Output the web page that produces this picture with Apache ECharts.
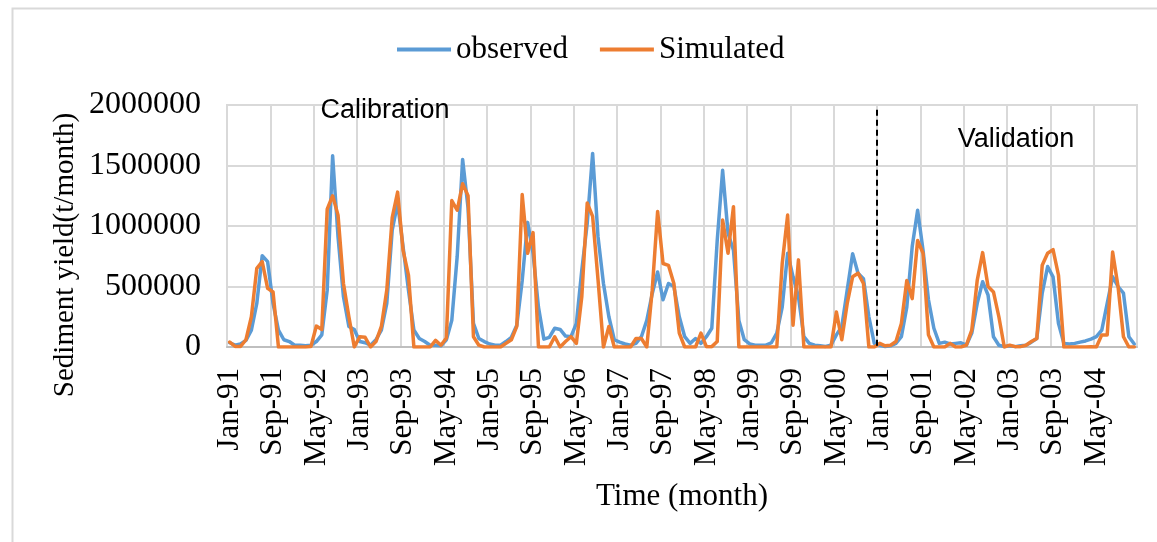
<!DOCTYPE html>
<html>
<head>
<meta charset="utf-8">
<script src="https://cdn.jsdelivr.net/npm/echarts@6/dist/echarts.min.js"></script>
<style>
html,body{margin:0;padding:0;background:#fff;}
#chart{width:1157px;height:542px;}
</style>
</head>
<body>
<div id="chart"></div>
<script>
// Month names and years for the category axis (Jan-91 .. Dec-04)
const monthNames = ['Jan','Feb','Mar','Apr','May','Jun','Jul','Aug','Sep','Oct','Nov','Dec'];
const years = ['91','92','93','94','95','96','97','98','99','00','01','02','03','04'];
const categories = [];
years.forEach(y => monthNames.forEach(m => categories.push(m + '-' + y)));

// Y-axis ticks
const yTicks = [0, 500000, 1000000, 1500000, 2000000];

// Observed sediment yield (t/month)
const observed = [
  35000, 15000, 25000, 55000, 140000, 360000, 755000, 705000, 360000, 140000, 60000, 45000,
  15000, 15000, 10000, 15000, 45000, 100000, 470000, 1580000, 910000, 415000, 170000, 145000,
  45000, 35000, 15000, 60000, 140000, 360000, 965000, 1190000, 830000, 470000, 140000, 70000,
  45000, 15000, 15000, 10000, 60000, 220000, 750000, 1550000, 1150000, 195000, 70000, 45000,
  25000, 15000, 15000, 45000, 80000, 180000, 550000, 1030000, 775000, 330000, 65000, 80000,
  155000, 145000, 90000, 85000, 195000, 635000, 1020000, 1600000, 910000, 525000, 250000, 60000,
  40000, 25000, 15000, 30000, 85000, 220000, 440000, 620000, 390000, 525000, 500000, 250000,
  85000, 30000, 70000, 30000, 85000, 155000, 880000, 1460000, 940000, 800000, 220000, 60000,
  25000, 15000, 15000, 15000, 35000, 115000, 330000, 775000, 580000, 415000, 85000, 30000,
  15000, 10000, 5000, 15000, 100000, 170000, 470000, 770000, 610000, 565000, 250000, 30000,
  15000, 3000, 10000, 30000, 85000, 330000, 830000, 1130000, 800000, 390000, 155000, 30000,
  40000, 25000, 30000, 35000, 15000, 115000, 360000, 540000, 430000, 85000, 15000, 3000,
  10000, 3000, 10000, 15000, 40000, 70000, 445000, 665000, 580000, 195000, 30000, 25000,
  30000, 40000, 50000, 65000, 85000, 140000, 360000, 580000, 500000, 445000, 85000, 25000
];

// Simulated sediment yield (t/month)
const simulated = [
  40000, 5000, 5000, 60000, 250000, 650000, 705000, 485000, 455000, 0, 0, 0,
  0, 0, 0, 5000, 173000, 145000, 1140000, 1250000, 1090000, 525000, 250000, 0,
  85000, 80000, 0, 45000, 170000, 470000, 1070000, 1280000, 800000, 595000, 0, 0,
  0, 0, 55000, 15000, 75000, 1210000, 1130000, 1350000, 1250000, 85000, 15000, 0,
  0, 0, 0, 30000, 60000, 170000, 1260000, 775000, 945000, 0, 0, 0,
  85000, 0, 45000, 85000, 30000, 415000, 1190000, 1080000, 555000, 0, 170000, 0,
  0, 0, 0, 70000, 70000, 0, 470000, 1120000, 690000, 675000, 525000, 115000,
  0, 0, 0, 115000, 3000, 3000, 45000, 1050000, 775000, 1160000, 0, 0,
  0, 0, 0, 0, 0, 0, 690000, 1090000, 180000, 720000, 0, 0,
  0, 0, 0, 0, 290000, 60000, 360000, 580000, 610000, 525000, 0, 0,
  30000, 10000, 15000, 45000, 195000, 550000, 400000, 880000, 775000, 100000, 0, 0,
  0, 30000, 0, 0, 15000, 140000, 550000, 780000, 500000, 455000, 250000, 0,
  15000, 3000, 3000, 15000, 45000, 70000, 675000, 775000, 805000, 595000, 0, 0,
  0, 0, 0, 3000, 0, 100000, 100000, 785000, 500000, 85000, 0, 0
];

const splitIndex = categories.indexOf('Jan-01');

const serif = '"Liberation Serif", "Times New Roman", serif';
const sans = '"Liberation Sans", Arial, sans-serif';

const chart = echarts.init(document.getElementById('chart'), null, {renderer: 'canvas'});

const option = {
  backgroundColor: '#ffffff',
  animation: false,
  grid: {
    left: 227, right: 20, top: 105, bottom: 195,
    show: true, borderColor: '#d9d9d9', borderWidth: 2
  },
  legend: {
    data: ['observed', 'Simulated'],
    left: 397, top: 34,
    icon: 'rect', itemWidth: 54, itemHeight: 4, itemGap: 32, padding: 0,
    textStyle: {fontFamily: serif, fontSize: 31, color: '#000'}
  },
  xAxis: {
    type: 'category',
    data: categories,
    boundaryGap: true,
    axisLine: {show: true, lineStyle: {color: '#bfbfbf', width: 2}},
    axisTick: {show: false},
    axisLabel: {
      interval: 7, rotate: 90, margin: 21,
      fontFamily: serif, fontSize: 31, color: '#000'
    },
    splitLine: {show: true, interval: 7, lineStyle: {color: '#d9d9d9', width: 2}}
  },
  yAxis: {
    type: 'value',
    min: yTicks[0], max: yTicks[yTicks.length - 1], interval: yTicks[1] - yTicks[0],
    axisLine: {show: true, lineStyle: {color: '#d9d9d9', width: 2}},
    axisTick: {show: false},
    axisLabel: {margin: 26, fontFamily: serif, fontSize: 32, color: '#000',
      formatter: v => String(v)},
    splitLine: {show: true, lineStyle: {color: '#d9d9d9', width: 2}}
  },
  series: [
    {
      name: 'observed', type: 'line', data: observed,
      symbol: 'none', showSymbol: false,
      lineStyle: {color: '#5b9bd5', width: 3.5, join: 'round', cap: 'round'},
      itemStyle: {color: '#5b9bd5'}
    },
    {
      name: 'Simulated', type: 'line', data: simulated,
      symbol: 'none', showSymbol: false,
      lineStyle: {color: '#ed7d31', width: 3.5, join: 'round', cap: 'round'},
      itemStyle: {color: '#ed7d31'}
    }
  ]
};
chart.setOption(option);

// Annotations positioned from the axes
const xa = chart.convertToPixel({xAxisIndex: 0}, splitIndex - 1);
const xb = chart.convertToPixel({xAxisIndex: 0}, splitIndex);
const xSplit = (xa + xb) / 2;
const y0 = chart.convertToPixel({yAxisIndex: 0}, 0);
const yTop = chart.convertToPixel({yAxisIndex: 0}, 1960000);

chart.setOption({
  graphic: [
    {type: 'rect', left: 10, top: 6, shape: {width: 1300, height: 700},
     style: {fill: 'none', stroke: '#d9d9d9', lineWidth: 2}, silent: true, z: -1},
    {type: 'line', shape: {x1: xSplit, y1: yTop, x2: xSplit, y2: y0},
     style: {stroke: '#000', lineWidth: 2, lineDash: [6, 4]}, z: 10},
    {type: 'text', x: 385, y: 111,
     style: {text: 'Calibration', font: '27px ' + sans, fill: '#000', textAlign: 'center', textVerticalAlign: 'middle'}},
    {type: 'text', x: 1016, y: 140,
     style: {text: 'Validation', font: '27px ' + sans, fill: '#000', textAlign: 'center', textVerticalAlign: 'middle'}},
    {type: 'text', x: 682, y: 497,
     style: {text: 'Time (month)', font: '31px ' + serif, fill: '#000', textAlign: 'center', textVerticalAlign: 'middle'}},
    {type: 'text', x: 65, y: 255, rotation: Math.PI / 2,
     style: {text: 'Sediment yield(t/month)', font: '29px ' + serif, fill: '#000', textAlign: 'center', textVerticalAlign: 'middle'}}
  ]
});
</script>
</body>
</html>
